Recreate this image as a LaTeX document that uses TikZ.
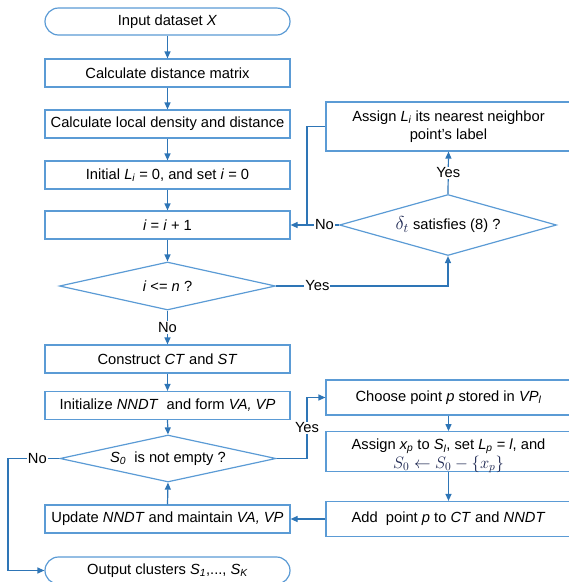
\documentclass[tikz,border=0pt]{standalone}
\usepackage{fontspec}
\setmainfont{Liberation Sans}
\usetikzlibrary{arrows.meta,shapes.geometric}
\definecolor{bord}{HTML}{5B9BD5}
\definecolor{conn}{HTML}{2E75B6}
\definecolor{navy}{HTML}{1B2550}
\begin{document}
\begin{tikzpicture}[x=1pt,y=-1pt,
  font=\fontsize{14.7}{18.5}\selectfont,
  box/.style={draw=bord, line width=1.2pt, minimum width=245pt, minimum height=28pt, inner sep=0pt, align=center, fill=white},
  term/.style={box, rounded corners=13.5pt, minimum height=27pt},
  dia/.style={draw=bord, line width=1.2pt, diamond, inner sep=0pt},
  arr/.style={draw=conn, line width=1.2pt, -{Triangle[length=7pt,width=6pt]}},
  ln/.style={draw=conn, line width=1.2pt},
  lab/.style={fill=white, inner sep=1pt}
]
\useasboundingbox (0,0) rectangle (569,582);
% left column
\node[term] (in) at (167.5,21.5) {Input dataset \textit{X}};
\node[box] (b1) at (167.5,73) {Calculate distance matrix};
\node[box] (b2) at (167.5,124) {Calculate local density and distance};
\node[box] (b3) at (167.5,175) {Initial \textit{L\textsubscript{i}} = 0, and set \textit{i} = 0};
\node[box] (b4) at (167.5,225) {\textit{i} = \textit{i} + 1};
\node[dia, minimum width=216pt, minimum height=48pt] (d1) at (167.5,286) {};
\node (t1) at (d1) {\textit{i} <= \textit{n} ?};
\node[box] (b5) at (167.5,359) {Construct \textit{CT} and \textit{ST}};
\node[box] (b6) at (167.5,405.5) {Initialize \textit{NNDT}\ \ and form \textit{VA, VP}};
\node[dia, minimum width=216pt, minimum height=47pt] (d2) at (168,458.5) {};
\node (t2) at (d2) {\textit{S\textsubscript{0}}\ \ is not empty ?};
\node[box] (b7) at (167.5,519) {Update \textit{NNDT} and maintain \textit{VA, VP}};
\node[term] (out) at (167.5,570.5) {Output clusters \textit{S\textsubscript{1}},..., \textit{S\textsubscript{K}}};
% right column
\node[box, minimum height=49pt] (r1) at (448.5,126.5) {Assign \textit{L\textsubscript{i}} its nearest neighbor\\point's label};
\node[dia, minimum width=217pt, minimum height=61pt] (d3) at (448,225) {};
\node (t3) at (d3) {{\color{navy}\scalebox{1.3}{$\delta_t$}} satisfies (8) ?};
\node[box, minimum height=35pt] (r2) at (448.5,397.5) {Choose point \textit{p} stored in \textit{VP\textsubscript{l}}};
\node[box, minimum height=40pt] (r3) at (448.5,451.7) {};
\node[align=center, inner sep=0pt] (t4) at (448.5,456) {Assign \textit{x\textsubscript{p}} to \textit{S\textsubscript{l}}, set \textit{L\textsubscript{p}} = \textit{l}, and\\[0pt]{\color{navy}\scalebox{1.15}{$S_0 \leftarrow S_0 - \bigl\{x_p\bigr\}$}}};
\node[box, minimum height=35pt] (r4) at (448.5,519) {Add\ \ point \textit{p} to \textit{CT} and \textit{NNDT}};
% helper coordinates
\coordinate (nw) at (8,458.5);
\coordinate (ye) at (307,458.5);
\coordinate (jn) at (307,225);
% connectors
\draw[arr] (in) -- (b1);
\draw[arr] (b1) -- (b2);
\draw[arr] (b2) -- (b3);
\draw[arr] (b3) -- (b4);
\draw[arr] (b4.south) -- (d1.north);
\draw[arr] (d1.south) -- node[lab]{No} (b5.north);
\draw[arr] (b5) -- (b6);
\draw[arr] (b6.south) -- (d2.north);
\draw[arr] (b7.north) -- (d2.south);
\draw[arr] (d2.west) -- node[lab,pos=0.43]{No} (nw) |- (out.west);
\draw[arr] (d2.east) -- (ye) |- node[lab,pos=0.25]{Yes} (r2.west);
\draw[arr] (r2) -- (r3);
\draw[arr] (r3) -- (r4);
\draw[arr] (r4.west) -- (b7.east);
\draw[arr] (d1.east) -| node[lab,pos=0.12]{Yes} (d3.south);
\draw[arr] (d3.north) -- node[lab]{Yes} (r1.south);
\draw[arr] (d3.west) -- node[lab,pos=0.3]{No} (b4.east);
\draw[ln] (r1.west) -| (jn);
\end{tikzpicture}
\end{document}
